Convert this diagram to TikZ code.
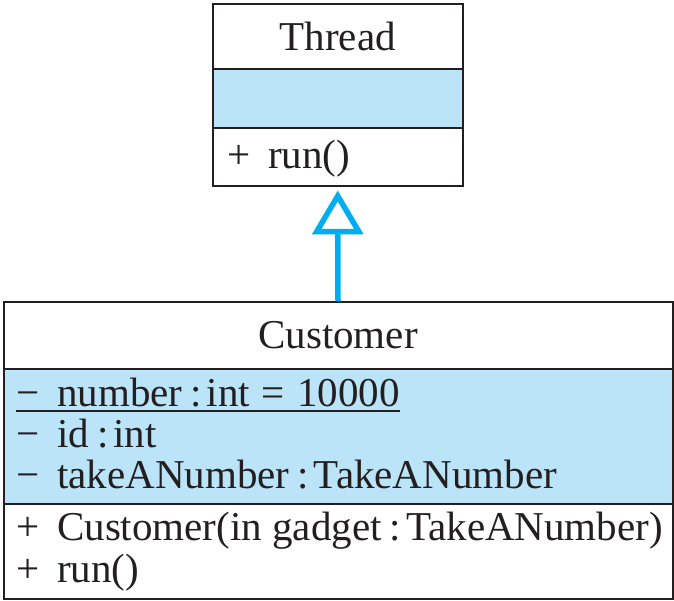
\documentclass[tikz,border=0pt]{standalone}
\usepackage{fontspec}
\setmainfont{Liberation Serif}
\definecolor{inkc}{RGB}{35,31,32}
\definecolor{attrblue}{RGB}{187,228,248}
\definecolor{arrowcyan}{RGB}{0,174,239}
\newcommand{\umlcolon}{\kern8pt:\kern5pt}
\newcommand{\umlsign}[1]{\makebox[41pt][l]{#1}}
\tikzset{
  sect/.style={draw=inkc, line width=2pt, inner sep=0pt, anchor=north west,
    text=inkc, font=\fontsize{41}{48}\selectfont},
  attrsect/.style={sect, fill=attrblue},
  member/.style={anchor=base west, inner sep=0pt, text=inkc,
    font=\fontsize{41}{48}\selectfont},
  gen/.style={draw=arrowcyan, line width=5.5pt, line join=miter}
}
\begin{document}
\begin{tikzpicture}[x=1pt,y=-1pt]
\useasboundingbox (0,0) rectangle (674,600);
% Thread class
\node[sect, minimum width=250.5pt, minimum height=65.5pt] (tn) at (211.5,2.5) {Thread};
\node[attrsect, minimum width=250.5pt, minimum height=59pt] (ta) at (211.5,68) {};
\node[sect, minimum width=250.5pt, minimum height=58pt] (tm) at (211.5,127) {};
\node[member] (trun) at (227,168) {\umlsign{+}run()};
% Customer class
\node[sect, minimum width=669pt, minimum height=67pt] (cn) at (2.5,301) {Customer};
\node[attrsect, minimum width=669pt, minimum height=135pt] (ca) at (2.5,368) {};
\node[sect, minimum width=669pt, minimum height=94.5pt] (cm) at (2.5,503) {};
\node[member] (a1) at (16,406) {\umlsign{−}number\umlcolon int\kern11pt=\kern13pt10000};
\draw[inkc, line width=2pt] ([yshift=-5pt]a1.base west) -- ([yshift=-5pt]a1.base east);
\node[member] (a2) at (16,447) {\umlsign{−}id\umlcolon int};
\node[member] (a3) at (16,488) {\umlsign{−}takeANumber\umlcolon TakeANumber};
\node[member] (m1) at (16,540) {\umlsign{+}Customer(in gadget\umlcolon TakeANumber)};
\node[member] (m2) at (16,582) {\umlsign{+}run()};
% generalization
\draw[gen] (cn.north) -- ([yshift=-44.5pt]tm.south);
\draw[gen] ([yshift=-9pt]tm.south) -- ++(-21,35.5) -- ++(42,0) -- cycle;
\end{tikzpicture}
\end{document}
